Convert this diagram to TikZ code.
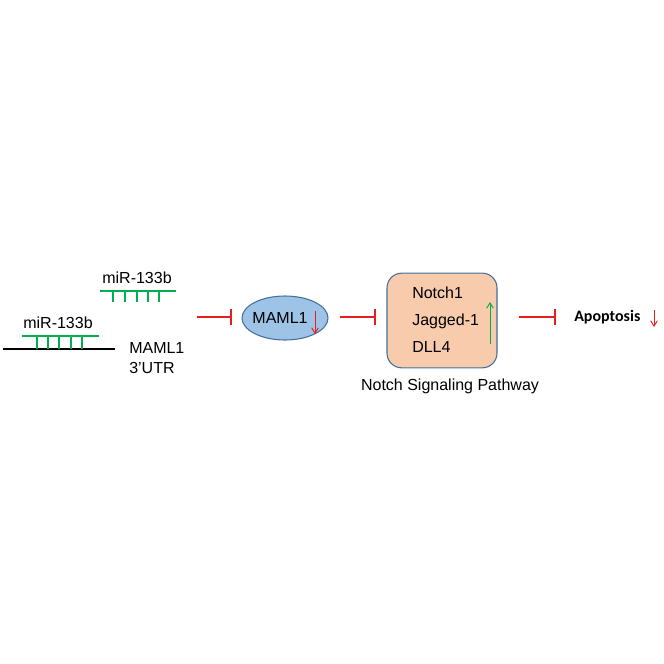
\documentclass[tikz,border=0pt]{standalone}
\usepackage{fontspec}
\setmainfont{Liberation Sans}
\newfontfamily\apofont{Carlito}
\usetikzlibrary{shapes.geometric, arrows.meta}
\definecolor{MirGreen}{RGB}{0, 176, 80}
\definecolor{InhRed}{RGB}{230, 30, 30}
\definecolor{EllBlue}{RGB}{157, 195, 230}
\definecolor{BoxPeach}{RGB}{248, 203, 173}
\definecolor{EdgeBlue}{RGB}{65, 113, 156}

\begin{document}
\begin{tikzpicture}[x=0.75pt, y=-0.75pt,
        lbl/.style={font=\fontsize{12}{14}\selectfont, inner sep=0pt},
        mir/.style={line width=1.5pt, MirGreen},
        utr/.style={line width=1.5pt, black},
        inhib/.style={-{Bar[width=12pt]}, line width=1.5pt, InhRed},
        downarr/.style={-{Straight Barb[length=4pt, width=5pt]}, line width=0.7pt, InhRed},
        uparr/.style={-{Straight Barb[length=4pt, width=5pt]}, line width=0.7pt, MirGreen},
        maml/.style={ellipse, draw=EdgeBlue, fill=EllBlue, line width=0.8pt, minimum width=64.5pt, minimum height=33pt, inner sep=0pt},
        path/.style={draw=EdgeBlue, fill=BoxPeach, rounded corners=11pt, line width=0.8pt, minimum width=82.5pt, minimum height=71pt, inner sep=0pt}
    ]
        \useasboundingbox (0,0) rectangle (664,664);

        % miRNA duplexes on the 3'UTR
        \draw[utr] (3,349) -- (115,349);
        \draw[mir] (22,336) -- (99,336);
        \foreach \x in {37,48,59,71,82}
            \draw[mir] (\x,336) -- (\x,349);
        \draw[mir] (100,291) -- (176,291);
        \foreach \x in {113,125,137,148,159}
            \draw[mir] (\x,291) -- (\x,302);

        \node[lbl] (mirlow) at (58,323) {miR-133b};
        \node[lbl] (mirup) at (137,278) {miR-133b};
        \node[lbl, anchor=west, align=left] (utrlbl) at (129,358.5) {MAML1\\[1pt]3'UTR};

        % MAML1
        \node[maml] (mamlell) at (285,318) {};
        \node[lbl] (mamltxt) at (280,318) {MAML1};
        \draw[downarr] (315,311) -- (315,334);

        % Notch pathway box
        \node[path] (notch) at (442,320.5) {};
        \node[lbl, anchor=west] (n1) at (412,293) {Notch1};
        \node[lbl, anchor=west] (jag) at (412,321) {Jagged-1};
        \node[lbl, anchor=west] (dll) at (412,347) {DLL4};
        \draw[uparr] (490,344) -- (490,302);
        \node[lbl] (pathlbl) at (450,386) {Notch Signaling Pathway};

        % Apoptosis
        \node[lbl, anchor=west, font=\apofont\bfseries\fontsize{12}{14}\selectfont] (apo) at (574,317) {Apoptosis};
        \draw[downarr] (654,310) -- (654,327);

        % Inhibitions
        \coordinate (src) at (197,317);
        \draw[inhib, shorten >=6.75pt] (src) -- (src -| mamlell.west);
        \draw[inhib, shorten <=8.25pt, shorten >=7.5pt] (src -| mamlell.east) -- (src -| notch.west);
        \draw[inhib, shorten <=15.75pt, shorten >=13.5pt] (src -| notch.east) -- (src -| apo.west);
\end{tikzpicture}
\end{document}
